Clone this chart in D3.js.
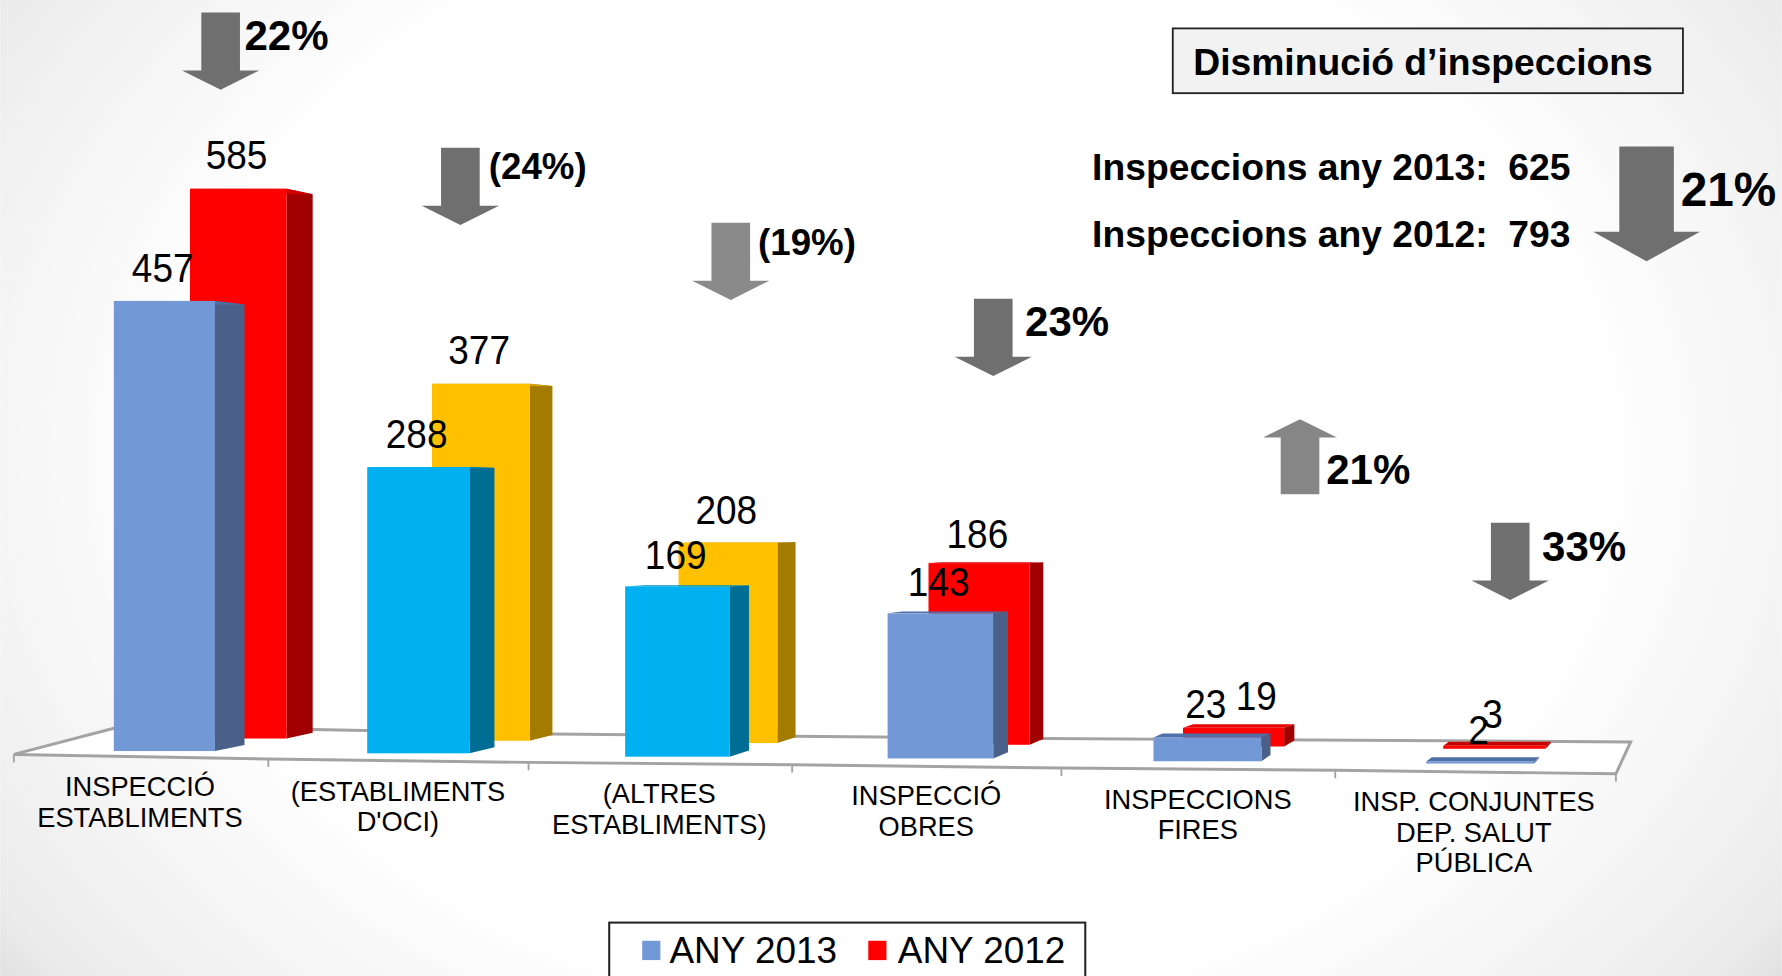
<!DOCTYPE html>
<html><head><meta charset="utf-8">
<script src="https://cdn.jsdelivr.net/npm/d3@7/dist/d3.min.js"></script>
<style>html,body{margin:0;padding:0;background:#fff;overflow:hidden}svg{display:block}text{font-family:"Liberation Sans",Arial,sans-serif;fill:#000}</style>
</head><body><div id="chart"></div>
<script>
// ---------- data ----------
const categories = [
  ["INSPECCIÓ","ESTABLIMENTS"],
  ["(ESTABLIMENTS","D'OCI)"],
  ["(ALTRES","ESTABLIMENTS)"],
  ["INSPECCIÓ","OBRES"],
  ["INSPECCIONS","FIRES"],
  ["INSP. CONJUNTES","DEP. SALUT","PÚBLICA"]
];
const values2013 = [457,288,169,143,23,2];
const values2012 = [585,377,208,186,19,3];
const seriesNames = ["ANY 2013","ANY 2012"];
const changeLabels = ["22%","(24%)","(19%)","23%","21%","33%"];
const changeDirections = ["down","down","down","down","up","down"];
const totalLines = ["Inspeccions any 2013:  625","Inspeccions any 2012:  793"];
const totalChange = "21%";
const titleText = "Disminució d’inspeccions";

// ---------- layout (reference coordinates, viewBox 1568x859) ----------
const idx = d3.range(categories.length);
const W = 1568, H = 859;
const piece = r => d3.scaleLinear().domain(r.map((_,i)=>i)).range(r);
const layout = {
  a:{left:piece([100,323,550,781,1015,1255]), width:piece([89,90,92,93,95,95]), depth:piece([26,22,17,13,8,5]), base:piece([661,663,666,667.5,670,672]), unit:piece([.00974,.00972,.00964,.0096,.0096,.0096])},
  b:{left:piece([167,380,597,817,1041,1270]), width:piece([85,86,87,89,89,90]), depth:piece([23,20,16,12,9,5]), base:piece([650,652,654,655.5,657,659]), unit:piece([.00973,.00969,.00975,.00966,.0097,.0097])}
};
const vanishY = 450, vanishTop = 0.017, vanishBottom = 0.025;
const front = ["#7299d6","#00b0f0","#00b0f0","#7299d6","#7299d6","#7299d6"];
const side  = ["#4a6089","#006d95","#006d95","#4a6089","#4a6089","#4a6089"];
const topc  = ["#4f6fa8","#0090c4","#0090c4","#4f6fa8","#4f6fa8","#4f6fa8"];
const front2 = ["#ff0000","#ffc000","#ffc000","#ff0000","#ff0000","#ff0000"];
const side2  = ["#a00000","#a27b00","#a27b00","#a00000","#a00000","#a00000"];
const topc2  = ["#d00000","#d8a200","#d8a200","#d00000","#e60000","#c80000"];

const svg = d3.select("#chart").append("svg")
  .attr("width",1782).attr("height",976).attr("viewBox",`0 0 ${W} ${H}`);

// background
const defs = svg.append("defs");
const bg = defs.append("radialGradient").attr("id","bg").attr("gradientUnits","userSpaceOnUse")
  .attr("cx",0).attr("cy",0).attr("r",1)
  .attr("gradientTransform","translate(784,400) scale(996,768)");
[[0,"#ffffff"],[0.62,"#ffffff"],[0.79,"#f5f5f5"],[0.94,"#ebebeb"],[1,"#dedede"]].forEach(s=>bg.append("stop").attr("offset",s[0]).attr("stop-color",s[1]));
svg.append("rect").attr("width",W).attr("height",H).attr("fill","url(#bg)");

// helper for condensed centred / left text
function label(g,str,x,yMid,size,opt={}){
  const sx = opt.sx||1;
  return g.append("text")
    .attr("transform",`translate(${x},${yMid+size*0.36}) scale(${sx},1)`)
    .attr("text-anchor",opt.anchor||"middle")
    .attr("font-size",size)
    .attr("font-weight",opt.bold?"bold":"normal")
    .attr("xml:space","preserve").style("white-space","pre")
    .text(str);
}

// floor
const floorX = piece([12,236,465,697,934,1175,1422]);
const floorY = piece([664,668,671,673,676,678,681]);
const backLine = [[100,641],[275,642],[486,646],[700,648],[918,650],[1435,653]];
const floorG = svg.append("g");
const lineGen = d3.line();
floorG.append("path").attr("fill","#fff").attr("stroke","none")
  .attr("d",lineGen([[floorX(0),floorY(0)],...backLine,[floorX(6),floorY(6)]])+"Z");
floorG.append("path").attr("fill","none").attr("stroke","#a3a3a3").attr("stroke-width",2.6)
  .attr("d",lineGen([...d3.range(7).map(i=>[floorX(i),floorY(i)])]));
floorG.append("path").attr("fill","none").attr("stroke","#a3a3a3").attr("stroke-width",2.6)
  .attr("d",lineGen([[floorX(0),floorY(0)],...backLine,[floorX(6),floorY(6)]]));
floorG.selectAll("line").data(d3.range(7)).join("line")
  .attr("x1",floorX).attr("x2",floorX)
  .attr("y1",floorY).attr("y2",i=>floorY(i)+7)
  .attr("stroke","#a3a3a3").attr("stroke-width",1.6);

// bars
function bars(values,l,fc,sc,tc){
  const g = svg.append("g");
  const geom = idx.map(i=>{
    const x0=l.left(i), w=l.width(i), d=l.depth(i), b=l.base(i);
    const t=b-values[i]*l.unit(i)*w;
    return {i,x0,x1:x0+w,d,b,t,bt:t+(vanishY-t)*vanishTop,bb:b+(vanishY-b)*vanishBottom};
  });
  g.selectAll("polygon.side").data(geom).join("polygon").attr("class","side")
    .attr("fill",d=>sc[d.i])
    .attr("points",d=>[[d.x1,d.t],[d.x1+d.d,d.bt],[d.x1+d.d,d.bb],[d.x1,d.b]].join(" "));
  g.selectAll("polygon.top").data(geom).join("polygon").attr("class","top")
    .attr("fill",d=>tc[d.i])
    .attr("points",d=>[[d.x0,d.t],[d.x1,d.t],[d.x1+d.d,d.bt],[d.x0+d.d,d.bt]].join(" "));
  g.selectAll("rect.front").data(geom).join("rect").attr("class","front")
    .attr("fill",d=>fc[d.i])
    .attr("x",d=>d.x0).attr("width",d=>d.x1-d.x0)
    .attr("y",d=>d.t).attr("height",d=>d.b-d.t);
  return geom;
}
const geom2012 = bars(values2012,layout.b,front2,side2,topc2);
const geom2013 = bars(values2013,layout.a,front,side,topc);

// value labels
const vg = svg.append("g");
const nudgeX2012 = piece([-1.5,-1.5,-1.5,-1.5,20,-1.5]);
const liftY2012 = piece([30,30,29,26,28,28]);
const liftY2013 = piece([29,29,28,28,30,28]);
geom2012.forEach((d,i)=>label(vg,String(values2012[i]),(d.x0+d.x1)/2+nudgeX2012(i),d.t-liftY2012(i),35,{sx:0.93}));
geom2013.forEach((d,i)=>label(vg,String(values2013[i]),(d.x0+d.x1)/2-1.5,d.t-liftY2013(i),35,{sx:0.93}));

// category labels
const catX = piece([123,350,580,815,1054,1297]);
const catY = piece([692,696,698,700,703,705]);
const cg = svg.append("g");
categories.forEach((lines,i)=>lines.forEach((s,j)=>label(cg,s,catX(i),catY(i)+j*27,24,{sx:1})));

// arrows
function arrow(g,cx,tail,tip,shaftW,headW,headL,fill){
  const dir = tip>tail?1:-1, hb=tip-dir*headL;
  g.append("polygon").attr("fill",fill).attr("points",[
    [cx-shaftW/2,tail],[cx+shaftW/2,tail],[cx+shaftW/2,hb],[cx+headW/2,hb],[cx,tip],
    [cx-headW/2,hb],[cx-shaftW/2,hb],[cx-shaftW/2,tail]].join(" "));
}
const arrowX = piece([194,405,643,874,1144,1329]);
const arrowTop = piece([11,130,196,263,369,460]);
const arrowFill = ["#6f6f6f","#6f6f6f","#8a8a8a","#6f6f6f","#868686","#6f6f6f"];
const changeX = piece([215,430,667,902,1167,1357]);
const changeY = piece([31,146,213,282,413,480]);
const changeSize = [37,32.3,32.3,37,37,37];
const ag = svg.append("g");
idx.forEach(i=>{
  const t=arrowTop(i);
  if(changeDirections[i]==="down") arrow(ag,arrowX(i),t,t+68,34,68,17,arrowFill[i]);
  else arrow(ag,arrowX(i),t+66,t,34,65,16,arrowFill[i]);
  label(ag,changeLabels[i],changeX(i),changeY(i),changeSize[i],{bold:true,anchor:"start"});
});

// summary box
const sg = svg.append("g");
sg.append("rect").attr("x",1032).attr("y",25).attr("width",449).attr("height",57)
  .attr("fill","#f2f2f2").attr("stroke","#222").attr("stroke-width",1.6);
label(sg,titleText,1050,54,32.8,{bold:true,anchor:"start"});
totalLines.forEach((s,i)=>label(sg,s,961,147+i*59,32.8,{bold:true,anchor:"start"}));
arrow(sg,1449,129,230,48,94,26,"#6f6f6f");
label(sg,totalChange,1479,166,42,{bold:true,anchor:"start"});

// legend
const lg = svg.append("g");
lg.append("rect").attr("x",536).attr("y",812).attr("width",419).attr("height",70)
  .attr("fill","#fff").attr("stroke","#222").attr("stroke-width",1.8);
[["#7299d6",565,589],["#ff0000",764,790]].forEach((s,i)=>{
  lg.append("rect").attr("x",s[1]).attr("y",828).attr("width",16).attr("height",17).attr("fill",s[0]);
  label(lg,seriesNames[i],s[2],836,32.5,{anchor:"start"});
});
</script></body></html>
